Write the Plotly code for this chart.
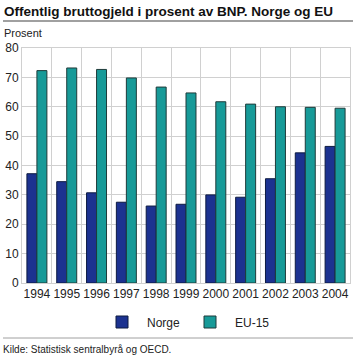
import plotly.graph_objects as go

years = ["1994", "1995", "1996", "1997", "1998", "1999", "2000", "2001", "2002", "2003", "2004"]
norge = [37.2, 34.5, 30.7, 27.5, 26.2, 26.8, 30.0, 29.2, 35.5, 44.3, 46.5]
eu15 = [72.3, 73.2, 72.7, 69.8, 66.7, 64.7, 61.7, 60.9, 60.0, 59.8, 59.5]

W, H = 357, 357
L, R, T, B = 22, 7, 48, 74
pw, ph = W - L - R, H - T - B

def px_x(x):
    return (x - L) / pw

def px_y(y):
    return (H - B - y) / ph

font = "Liberation Sans Narrow, Liberation Sans, Arial, sans-serif"
font2 = "Liberation Sans, Arial, sans-serif"

fig = go.Figure()
fig.add_trace(go.Bar(x=years, y=norge, name="Norge", marker=dict(color="#1c3290", line=dict(color="#0d1a40", width=1))))
fig.add_trace(go.Bar(x=years, y=eu15, name="EU-15", marker=dict(color="#179a98", line=dict(color="#1f3b3a", width=1))))

fig.update_layout(
    width=W, height=H,
    margin=dict(l=L, r=R, t=T, b=B, autoexpand=False),
    paper_bgcolor="white", plot_bgcolor="white",
    barmode="group", bargap=0.33, bargroupgap=0,
    font=dict(family=font2, size=12, color="#222"),
    showlegend=True,
    legend=dict(orientation="h", x=0.5, xanchor="center", y=px_y(322), yanchor="middle",
                font=dict(size=12), itemwidth=40, traceorder="normal"),
    xaxis=dict(type="category", tickson="boundaries", showgrid=True, gridcolor="#d0d0d0", gridwidth=1,
               ticks="", tickangle=0, tickfont=dict(size=12, family=font), showline=True,
               linecolor="#d0d0d0", mirror=True, automargin=False),
    yaxis=dict(range=[0, 80], dtick=10, showgrid=True, gridcolor="#d0d0d0", gridwidth=1,
               ticks="", tickfont=dict(size=12), showline=True, linecolor="#d0d0d0", mirror=True,
               zeroline=False, automargin=False),
)

fig.add_annotation(text="<b>Offentlig bruttogjeld i prosent av BNP. Norge og EU</b>", xref="paper", yref="paper",
                   x=px_x(2), y=px_y(11), xanchor="left", yanchor="middle", showarrow=False,
                   font=dict(size=13.5, color="#111"))
fig.add_annotation(text="Prosent", xref="paper", yref="paper", x=px_x(2), y=px_y(33),
                   xanchor="left", yanchor="middle", showarrow=False, font=dict(size=11))
fig.add_annotation(text="Kilde: Statistisk sentralbyrå og OECD.", xref="paper", yref="paper",
                   x=px_x(1), y=px_y(349), xanchor="left", yanchor="middle", showarrow=False,
                   font=dict(size=10))
fig.add_shape(type="line", xref="paper", yref="paper", x0=px_x(3), x1=px_x(353), y0=px_y(21), y1=px_y(21),
              line=dict(color="#a0a0a0", width=2))
fig.add_shape(type="line", xref="paper", yref="paper", x0=px_x(3), x1=px_x(353), y0=px_y(338), y1=px_y(338),
              line=dict(color="#a0a0a0", width=1))

fig.write_html("out.html", config={"displayModeBar": False},
               post_script="document.body.style.margin='0';document.body.style.overflow='hidden';")
